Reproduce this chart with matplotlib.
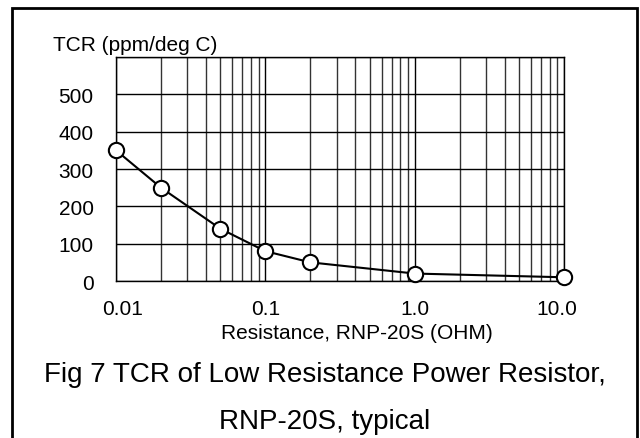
import matplotlib
matplotlib.use('Agg')
import matplotlib.pyplot as plt
from matplotlib.patches import Rectangle
from matplotlib.transforms import ScaledTranslation
from matplotlib.ticker import LogLocator, NullFormatter

plt.rcParams['font.family'] = ['Liberation Sans', 'DejaVu Sans']

# Datos
resistance = [0.01, 0.02, 0.05, 0.1, 0.2, 1.0, 10.0]
tcr = [350, 250, 140, 80, 50, 20, 10]

x_ticks = [0.01, 0.1, 1.0, 10.0]
x_tick_labels = ['0.01', '0.1', '1.0', '10.0']
y_ticks = [0, 100, 200, 300, 400, 500]
y_tick_labels = ['0', '100', '200', '300', '400', '500']

fig = plt.figure(figsize=(6.4, 4.39), dpi=100)
ax = fig.add_axes([0.18125, 0.3576, 0.7, 0.5103])

ax.set_xscale('log')
ax.set_xlim(0.01, 10.0)
ax.set_ylim(0, 600)

# Rejilla
ax.set_xticks(x_ticks)
ax.set_xticklabels(x_tick_labels)
ax.xaxis.set_minor_locator(LogLocator(base=10, subs=range(2, 10)))
ax.xaxis.set_minor_formatter(NullFormatter())
ax.set_yticks(y_ticks + [600])
ax.set_yticklabels(y_tick_labels + [''])
ax.grid(True, which='major', color='black', linewidth=1.0)
ax.grid(True, which='minor', axis='x', color='#333333', linewidth=1.0)
ax.tick_params(which='both', length=0, labelsize=15)
ax.tick_params(axis='x', pad=13)
ax.tick_params(axis='y', pad=16)
for s in ax.spines.values():
    s.set_color('black')
    s.set_linewidth(1.0)

# Curva
ax.plot(resistance, tcr, color='black', linewidth=1.5, marker='o',
        markersize=11, markerfacecolor='white', markeredgecolor='black',
        markeredgewidth=1.5, clip_on=False, zorder=5)

# Desplazamiento de etiquetas del eje x
offsets = [5, 0, 0, -5]
for lbl, dx in zip(ax.get_xticklabels(), offsets):
    lbl.set_transform(lbl.get_transform() + ScaledTranslation(dx / 72, 0, fig.dpi_scale_trans))

# Textos
fig.text(0.0828, 0.8845, 'TCR (ppm/deg C)', fontsize=15, ha='left', va='baseline')
fig.text(0.557, 0.2285, 'Resistance, RNP-20S (OHM)', fontsize=15, ha='center', va='baseline')
fig.text(0.508, 0.1305, 'Fig 7 TCR of Low Resistance Power Resistor,', fontsize=20,
         ha='center', va='baseline')
fig.text(0.508, 0.022, 'RNP-20S, typical', fontsize=20, ha='center', va='baseline')

# Marco exterior
fig.patches.append(Rectangle((0.018, -0.02), 0.977, 0.9995, transform=fig.transFigure,
                             fill=False, edgecolor='black', linewidth=2))

fig.savefig('out.png', dpi=100)
